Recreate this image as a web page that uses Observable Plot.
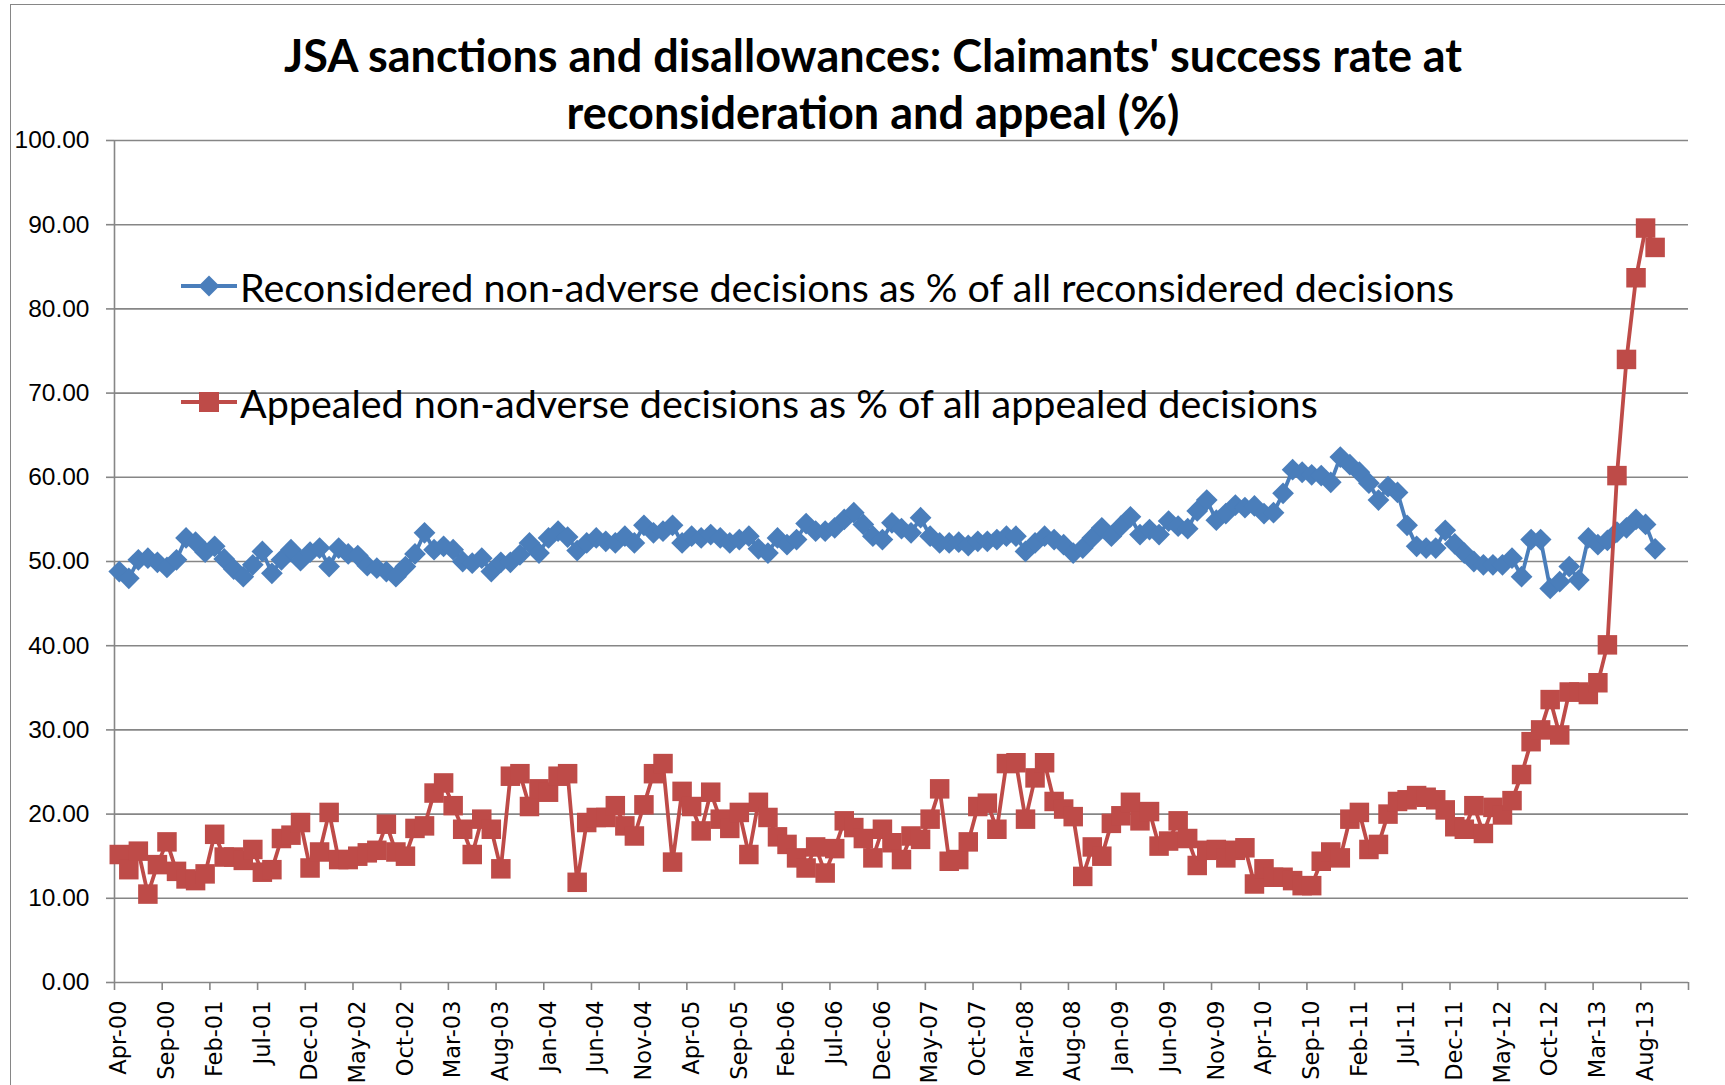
<!DOCTYPE html>
<html>
<head>
<meta charset="utf-8">
<script src="https://cdn.jsdelivr.net/npm/d3@7"></script>
<script src="https://cdn.jsdelivr.net/npm/@observablehq/plot@0.6"></script>
<style>
  body { margin: 0; background: #fff; }
  #wrap { position: relative; width: 1725px; height: 1085px; overflow: hidden; background: #fff; }
  #frame { position: absolute; left: 10px; top: 4px; width: 1800px; height: 1200px; border: 1.5px solid #868686; box-sizing: border-box; }
  #title { position: absolute; left: 0; width: 1746px; top: 27px; text-align: center; font-family: Lato, "Open Sans", sans-serif; font-weight: bold; font-size: 45px; line-height: 57px; color: #000; z-index: 2; }
  #chart { position: absolute; left: 0; top: 120px; }
  .leg { position: absolute; left: 181px; height: 40px; display: flex; align-items: center; font-family: Lato, sans-serif; font-size: 39.5px; color: #000; white-space: nowrap; z-index: 2; }
  .leg svg { margin-right: 3px; }
</style>
</head>
<body>
<div id="wrap">
  <div id="frame"></div>
  <div id="title">JSA sanctions and disallowances: Claimants' success rate at<br>reconsideration and appeal (%)</div>
  <div id="chart"></div>
  <div id="legend"></div>
</div>
<script>
// ---- data (monthly, Apr-00 .. Sep-13) ----
const firstMonth = "Apr-00";
const reconsideredPct = [
  48.8, 48.0, 50.2, 50.4, 49.9, 49.3, 50.2, 52.8, 52.3, 51.1,
  51.8, 50.3, 49.1, 48.2, 49.6, 51.2, 48.6, 50.2, 51.4, 50.1,
  51.1, 51.6, 49.4, 51.6, 50.9, 50.7, 49.5, 49.2, 48.8, 48.2,
  49.4, 50.9, 53.4, 51.4, 51.8, 51.4, 50.0, 49.8, 50.4, 48.8,
  49.9, 49.9, 50.8, 52.2, 51.0, 52.8, 53.6, 52.9, 51.3, 52.2,
  52.8, 52.4, 52.2, 53.0, 52.2, 54.3, 53.4, 53.6, 54.3, 52.2,
  53.0, 52.8, 53.2, 52.8, 52.2, 52.6, 53.0, 51.5, 51.0, 52.8,
  52.0, 52.6, 54.5, 53.6, 53.6, 54.0, 55.0, 55.8, 54.4, 53.0,
  52.6, 54.6, 53.9, 53.4, 55.2, 53.0, 52.2, 52.2, 52.3, 51.9,
  52.4, 52.4, 52.6, 53.0, 53.0, 51.2, 52.2, 53.0, 52.6, 52.0,
  51.0, 51.6, 52.8, 54.0, 53.0, 54.2, 55.3, 53.2, 53.8, 53.2,
  54.8, 54.2, 53.9, 56.0, 57.3, 54.9, 55.7, 56.7, 56.4, 56.6,
  55.7, 55.8, 58.1, 60.9, 60.6, 60.3, 60.2, 59.4, 62.4, 61.5,
  60.6, 59.3, 57.3, 58.9, 58.2, 54.3, 51.8, 51.6, 51.6, 53.7,
  52.1, 51.0, 50.0, 49.6, 49.6, 49.6, 50.4, 48.2, 52.6, 52.6,
  46.8, 47.6, 49.4, 47.8, 52.8, 52.0, 52.5, 53.5, 54.0, 55.0,
  54.4, 51.5
];
const appealedPct = [
  15.2, 13.4, 15.6, 10.5, 14.0, 16.7, 13.2, 12.3, 12.1, 12.9,
  17.6, 14.9, 14.9, 14.5, 15.8, 13.1, 13.4, 17.1, 17.5, 19.0,
  13.6, 15.5, 20.2, 14.6, 14.6, 15.0, 15.4, 15.7, 18.8, 15.5,
  15.0, 18.3, 18.6, 22.5, 23.7, 21.0, 18.2, 15.2, 19.4, 18.2,
  13.5, 24.5, 24.8, 20.9, 23.0, 22.6, 24.5, 24.8, 11.9, 19.0,
  19.6, 19.6, 21.0, 18.6, 17.4, 21.1, 24.8, 26.0, 14.3, 22.7,
  20.9, 18.0, 22.6, 19.4, 18.3, 20.2, 15.2, 21.4, 19.6, 17.3,
  16.4, 14.8, 13.6, 16.1, 13.0, 15.9, 19.2, 18.4, 17.1, 14.8,
  18.2, 16.6, 14.6, 17.4, 17.0, 19.4, 23.0, 14.4, 14.6, 16.7,
  20.9, 21.3, 18.2, 26.0, 26.1, 19.4, 24.3, 26.1, 21.5, 20.6,
  19.7, 12.6, 16.1, 15.0, 18.9, 19.8, 21.4, 19.2, 20.3, 16.2,
  16.8, 19.2, 17.1, 13.9, 15.7, 15.8, 14.8, 15.7, 16.0, 11.7,
  13.5, 12.5, 12.5, 12.1, 11.5, 11.5, 14.4, 15.5, 14.8, 19.4,
  20.2, 15.8, 16.4, 20.0, 21.5, 21.7, 22.2, 22.0, 21.7, 20.5,
  18.5, 18.2, 21.0, 17.7, 20.8, 19.9, 21.6, 24.7, 28.6, 30.0,
  33.6, 29.4, 34.5, 34.5, 34.2, 35.6, 40.1, 60.2, 74.0, 83.7,
  89.6, 87.3
];
const seriesNames = [
  "Reconsidered non-adverse decisions as % of all reconsidered decisions",
  "Appealed non-adverse decisions as % of all appealed decisions"
];
const seriesColors = ["#4A7EBB", "#BE4B48"];
const xTickLabels = ["Apr-00","Sep-00","Feb-01","Jul-01","Dec-01","May-02","Oct-02","Mar-03","Aug-03","Jan-04","Jun-04","Nov-04","Apr-05","Sep-05","Feb-06","Jul-06","Dec-06","May-07","Oct-07","Mar-08","Aug-08","Jan-09","Jun-09","Nov-09","Apr-10","Sep-10","Feb-11","Jul-11","Dec-11","May-12","Oct-12","Mar-13","Aug-13"];
const yTicks = [0, 10, 20, 30, 40, 50, 60, 70, 80, 90, 100];
const axisMonths = 165; // axis runs Apr-00 .. end of Dec-13
const labelStep = 5;

// ---- build tables ----
const toRows = (vals, s) => vals.map((v, i) => ({ m: i + 0.5, v, s }));
const blueRows = toRows(reconsideredPct, seriesNames[0]);
const redRows = toRows(appealedPct, seriesNames[1]);
const boundaryTicks = d3.range(0, axisMonths + 1, labelStep);
const labelPos = xTickLabels.map((_, k) => k * labelStep + 0.5);
const labelMap = new Map(labelPos.map((p, k) => [p, xTickLabels[k]]));

const gray = "#868686";
const chart = Plot.plot({
  width: 1725,
  height: 965,
  marginTop: 20,
  marginBottom: 103,
  marginLeft: 114,
  marginRight: 37,
  x: { type: "linear", domain: [0, axisMonths], label: null },
  y: { domain: [0, 100], label: null },
  style: { background: "transparent", color: "#000", overflow: "visible" },
  marks: [
    Plot.gridY(yTicks, { stroke: gray, strokeOpacity: 1, strokeWidth: 1.6 }),
    Plot.ruleX([0], { stroke: gray, strokeWidth: 1.6 }),
    Plot.axisY(yTicks, {
      tickSize: 8, tickPadding: 17, stroke: gray, strokeWidth: 1.6,
      tickFormat: d => d.toFixed(2), fontSize: 24.5, fontFamily: "Liberation Sans, Arial, sans-serif",
      label: null
    }),
    Plot.axisX(boundaryTicks, {
      tickSize: 8, stroke: gray, strokeWidth: 1.6, tickFormat: () => "", label: null
    }),
    Plot.axisX(labelPos, {
      tickSize: 0, tickPadding: 18, tickRotate: -90,
      tickFormat: d => labelMap.get(d), fontSize: 22.5, fontFamily: "DejaVu Sans, Verdana, sans-serif",
      label: null
    }),
    Plot.line(blueRows, { x: "m", y: "v", stroke: seriesColors[0], strokeWidth: 3.8 }),
    Plot.dot(blueRows, { x: "m", y: "v", symbol: "diamond2", r: 9.8, fill: seriesColors[0] }),
    Plot.line(redRows, { x: "m", y: "v", stroke: seriesColors[1], strokeWidth: 3.8 }),
    Plot.dot(redRows, { x: "m", y: "v", symbol: "square", r: 11, fill: seriesColors[1] })
  ]
});
document.getElementById("chart").appendChild(chart);

// ---- legend (HTML overlay) ----
const legendTops = [266, 382];
const legend = document.getElementById("legend");
seriesNames.forEach((name, k) => {
  const div = document.createElement("div");
  div.className = "leg";
  div.style.top = legendTops[k] + "px";
  const marker = k === 0
    ? `<path d="M28,9.5 L38.5,20 L28,30.5 L17.5,20 Z" fill="${seriesColors[k]}"/>`
    : `<rect x="18" y="10" width="20" height="20" fill="${seriesColors[k]}"/>`;
  div.innerHTML = `<svg width="56" height="40"><line x1="0" x2="56" y1="20" y2="20" stroke="${seriesColors[k]}" stroke-width="3.8"/>${marker}</svg><span>${name}</span>`;
  legend.appendChild(div);
});
</script>
</body>
</html>
